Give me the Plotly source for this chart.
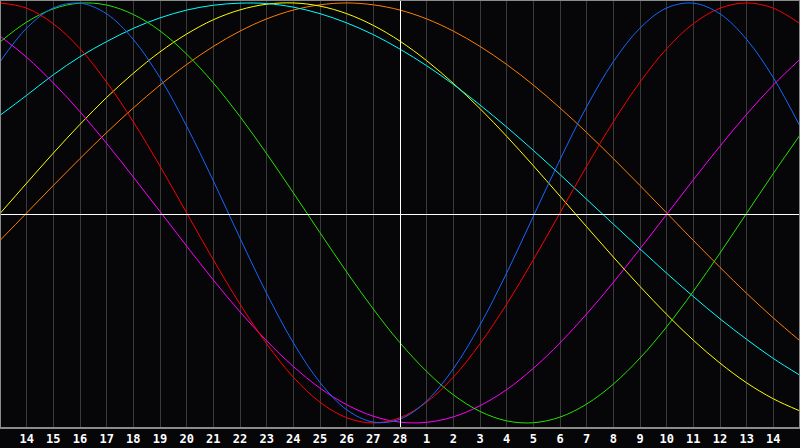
import plotly.graph_objects as go

# day offsets relative to the centre day (28th)
day_offsets = list(range(-15, 16))
tick_vals = list(range(-14, 15))
tick_labels = ["14", "15", "16", "17", "18", "19", "20", "21", "22", "23", "24", "25", "26", "27", "28",
               "1", "2", "3", "4", "5", "6", "7", "8", "9", "10", "11", "12", "13", "14"]

# cycle values in percent (-100..100), one per day
red = [100, 97.5, 90.1, 78.2, 62.3, 43.4, 22.3, 0, -22.3, -43.4, -62.3, -78.2, -90.1, -97.5, -100,
       -97.5, -90.1, -78.2, -62.3, -43.4, -22.3, 0, 22.3, 43.4, 62.3, 78.2, 90.1, 97.5, 100, 97.5, 90.1]
blue = [72.0, 88.0, 97.6, 99.9, 94.8, 82.6, 64.4, 41.3, 15.3, -12.0, -38.3, -61.8, -80.7, -93.7, -99.6,
        -98.2, -89.5, -74.2, -53.4, -28.6, -1.6, 25.4, 50.6, 72.0, 88.0, 97.6, 99.9, 94.8, 82.6, 64.4, 41.3]
green = [81.4, 90.9, 97.2, 99.9, 99.0, 94.5, 86.7, 75.6, 61.9, 45.9, 28.2, 9.6, -9.4, -28.1, -45.8,
         -61.8, -75.5, -86.6, -94.5, -99.0, -99.9, -97.2, -91.0, -81.5, -69.1, -54.2, -37.3, -19.1, -0.1, 18.8, 37.1]
magenta = [84.2, 74.1, 61.9, 48.2, 33.1, 17.1, 0.7, -15.8, -31.9, -47.1, -60.9, -73.1, -83.4, -91.3, -96.8,
           -99.6, -99.7, -97.1, -91.8, -84.1, -74.0, -61.9, -48.1, -33.1, -17.1, -0.7, 15.8, 31.8, 47.0, 60.9, 73.2]
orange = [-13.1, 0, 13.1, 25.9, 38.3, 50.0, 60.9, 70.7, 79.3, 86.6, 92.4, 96.6, 99.1, 100, 99.1,
          96.6, 92.4, 86.6, 79.3, 70.7, 60.9, 50.0, 38.3, 25.9, 13.1, 0, -13.1, -25.9, -38.3, -50.0, -60.9]
yellow = [-0.3, 14.2, 28.5, 42.2, 55.0, 66.5, 76.7, 85.2, 92.0, 96.7, 99.4, 100.0, 98.5, 94.9, 89.3,
          81.8, 72.5, 61.7, 49.7, 36.5, 22.5, 8.0, -6.6, -21.0, -35.0, -48.3, -60.6, -71.5, -80.9, -88.5, -94.3]
cyan = [46.5, 56.0, 65.8, 74.4, 81.6, 87.9, 92.9, 96.6, 98.9, 99.9, 99.7, 98.0, 94.9, 90.5, 84.9,
        78.0, 70.1, 61.2, 51.4, 40.9, 29.8, 18.3, 6.5, -5.3, -17.1, -28.7, -39.8, -50.4, -60.2, -69.3, -77.3]

series = [
    ("orange", orange, "#ff7f00"),
    ("yellow", yellow, "#ffff00"),
    ("cyan", cyan, "#00ffff"),
    ("magenta", magenta, "#ff00ff"),
    ("green", green, "#22e400"),
    ("red", red, "#ff0000"),
    ("blue", blue, "#1468ff"),
]

fig = go.Figure()
for name, vals, col in series:
    fig.add_trace(go.Scatter(x=day_offsets, y=vals, mode="lines", name=name,
                             line=dict(color=col, width=1, shape="spline", smoothing=1.0),
                             hoverinfo="skip"))

bg = "#060508"
fig.update_layout(
    width=800, height=448,
    margin=dict(l=0, r=0, t=0, b=20),
    paper_bgcolor=bg, plot_bgcolor=bg,
    showlegend=False,
    hovermode=False,
    xaxis=dict(range=[-15, 15], tickvals=tick_vals, ticktext=tick_labels,
               showgrid=True, gridcolor="#3a3a3a", gridwidth=1, zeroline=False,
               showline=False, ticks="", ticklabelstandoff=2, fixedrange=True,
               tickfont=dict(family="DejaVu Sans Mono", size=12, color="#ffffff", weight="bold")),
    yaxis=dict(range=[-102.4, 101.4], showgrid=False, zeroline=False, showticklabels=False,
               showline=False, ticks="", fixedrange=True),
    shapes=[
        dict(type="line", xref="paper", yref="paper", x0=0.500625, x1=0.500625, y0=0, y1=1,
             line=dict(color="#ffffff", width=1), layer="above"),
        dict(type="line", xref="paper", yref="paper", x0=0, x1=1, y0=0.49883, y1=0.49883,
             line=dict(color="#ffffff", width=1), layer="above"),
        dict(type="rect", xref="paper", yref="paper", x0=0, x1=1, y0=0, y1=1,
             line=dict(color="#8a8a8a", width=2), layer="above"),
    ],
)

fig.write_html("out.html",
               config={"displayModeBar": False, "staticPlot": True},
               post_script="document.body.style.margin='0';document.body.style.overflow='hidden';")
